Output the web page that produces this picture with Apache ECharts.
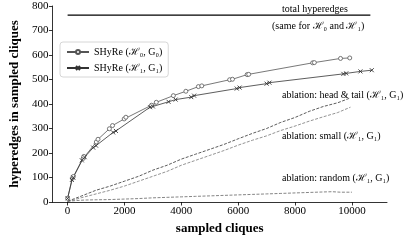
<!DOCTYPE html>
<html><head><meta charset="utf-8">
<script src="https://cdn.jsdelivr.net/npm/echarts@6/dist/echarts.min.js"></script>
<style>html,body{margin:0;padding:0;background:#fff}#c{width:417px;height:240px}</style>
</head><body><div id="c"></div>
<script>
// ---- data ----
const xTicks = [0, 2000, 4000, 6000, 8000, 10000];
const yTicks = [0, 100, 200, 300, 400, 500, 600, 700, 800];

const totalX = [0, 10650];
const totalY = [763, 763];

const shyreH0X = [0, 170, 200, 550, 570, 1010, 1070, 1470, 1580, 1990, 2050, 2950, 3120, 3720, 4160, 4600, 4720, 5700, 5800, 6315, 6370, 8620, 8680, 9600, 9925];
const shyreH0Y = [15, 97, 104, 178, 186, 245, 256, 299, 312, 339, 346, 395, 407, 434, 452, 471, 474, 499, 501, 520, 521, 568, 569, 586, 588];

const shyreH1X = [0, 150, 200, 500, 600, 900, 1000, 1600, 1700, 2900, 3000, 3550, 3800, 4350, 4450, 5950, 6050, 7000, 7100, 9700, 9800, 10300, 10700];
const shyreH1Y = [15, 90, 100, 170, 183, 222, 230, 284, 290, 387, 390, 409, 418, 428, 434, 463, 467, 483, 487, 523, 525, 533, 538];

const headTailX = [0, 500, 1000, 1500, 2000, 2500, 3000, 3500, 4000, 4500, 5000, 5500, 6000, 6500, 7000, 7500, 8000, 8500, 9000, 9500, 9950];
const headTailY = [3, 25, 48, 65, 85, 105, 130, 150, 175, 195, 215, 235, 258, 280, 300, 325, 345, 370, 390, 405, 425];

const smallX = [0, 500, 1000, 1500, 2000, 2500, 3000, 3500, 4000, 4500, 5000, 5500, 6000, 6500, 7000, 7500, 8000, 8500, 9000, 9500, 9950];
const smallY = [2, 18, 33, 48, 65, 85, 105, 125, 150, 170, 190, 210, 232, 252, 270, 292, 310, 330, 348, 365, 387];

const randomX = [0, 300, 600, 1000, 1500, 2000, 2500, 3000, 3500, 4000, 4500, 5000, 5500, 6000, 6500, 7000, 7500, 8000, 8500, 9000, 9300, 9600, 10000];
const randomY = [3, 6, 8, 9, 10, 12, 14, 17, 19, 21, 23, 25, 27, 29, 31, 33, 35, 37, 39, 41, 42, 40, 40];

const pairs = (xs, ys) => xs.map((x, i) => [x, ys[i]]);
const SERIF = 'Liberation Serif';

const chart = echarts.init(document.getElementById('c'), null, {renderer: 'canvas'});
const crossPath = 'path://M0,0L10,10M10,0L0,10';
chart.setOption({
  animation: false,
  grid: {left: 47, top: 6, width: 340, height: 198},
  xAxis: {
    type: 'value', min: -535, max: 11235,
    name: 'sampled cliques', nameLocation: 'middle', nameGap: 20,
    nameTextStyle: {fontFamily: SERIF, fontWeight: 'bold', fontSize: 13, color: '#000'},
    axisLine: {onZero: false, lineStyle: {color: '#000', width: 0.8}},
    axisTick: {customValues: xTicks, length: 3.5, lineStyle: {color: '#000', width: 0.8}},
    axisLabel: {customValues: xTicks, formatter: v => String(v), fontFamily: SERIF, fontSize: 11, color: '#000', margin: 4},
    splitLine: {show: false}
  },
  yAxis: {
    type: 'value', min: 0, max: 800, interval: 100,
    name: 'hyperedges in sampled cliques', nameLocation: 'middle', nameGap: 29,
    nameTextStyle: {fontFamily: SERIF, fontWeight: 'bold', fontSize: 13, color: '#000'},
    axisLine: {show: true, onZero: false, lineStyle: {color: '#000', width: 0.8}},
    axisTick: {show: true, length: 3.5, lineStyle: {color: '#000', width: 0.8}},
    axisLabel: {formatter: v => String(v), fontFamily: SERIF, fontSize: 11, color: '#000', margin: 4},
    splitLine: {show: false}
  },
  legend: {
    left: 60, top: 42, orient: 'vertical',
    data: ['SHyRe (ℋ₀, G₀)', 'SHyRe (ℋ₁, G₁)'],
    itemWidth: 22, itemHeight: 5, itemGap: 6,
    padding: [5, 6, 4, 6],
    borderColor: '#ccc', borderWidth: 0.8, borderRadius: 3,
    textStyle: {fontFamily: SERIF, fontSize: 10, color: '#000'}
  },
  series: [
    {name: 'total', type: 'line', data: pairs(totalX, totalY), symbol: 'none',
     lineStyle: {color: '#000', width: 1.2}},
    {name: 'SHyRe (ℋ₀, G₀)', type: 'line', data: pairs(shyreH0X, shyreH0Y),
     symbol: 'circle', symbolSize: 4, showAllSymbol: true,
     itemStyle: {color: '#fff', borderColor: '#555', borderWidth: 0.8},
     lineStyle: {color: '#555', width: 0.8}},
    {name: 'SHyRe (ℋ₁, G₁)', type: 'line', data: pairs(shyreH1X, shyreH1Y),
     symbol: crossPath, symbolSize: 4, showAllSymbol: true,
     itemStyle: {color: 'rgba(0,0,0,0)', borderColor: '#333', borderWidth: 0.9},
     lineStyle: {color: '#333', width: 0.8}},
    {name: 'head & tail', type: 'line', data: pairs(headTailX, headTailY), symbol: 'none',
     lineStyle: {color: '#333', width: 0.8, type: [3, 1.5]}},
    {name: 'small', type: 'line', data: pairs(smallX, smallY), symbol: 'none',
     lineStyle: {color: '#777', width: 0.8, type: [3, 1.5]}},
    {name: 'random', type: 'line', data: pairs(randomX, randomY), symbol: 'none',
     lineStyle: {color: '#666', width: 0.8, type: [3, 1.5]}}
  ],
  graphic: [
    {type: 'text', left: 282, top: 4, style: {text: 'total hyperedges', font: '10px "Liberation Serif"', fill: '#000'}},
    {type: 'text', left: 272, top: 21, style: {text: '(same for ℋ₀ and ℋ₁)', font: '10px "Liberation Serif"', fill: '#000'}},
    {type: 'text', left: 282, top: 90, style: {text: 'ablation: head & tail (ℋ₁, G₁)', font: '10px "Liberation Serif"', fill: '#000'}},
    {type: 'text', left: 282, top: 131, style: {text: 'ablation: small (ℋ₁, G₁)', font: '10px "Liberation Serif"', fill: '#000'}},
    {type: 'text', left: 282, top: 173, style: {text: 'ablation: random (ℋ₁, G₁)', font: '10px "Liberation Serif"', fill: '#000'}}
  ]
});
</script></body></html>
